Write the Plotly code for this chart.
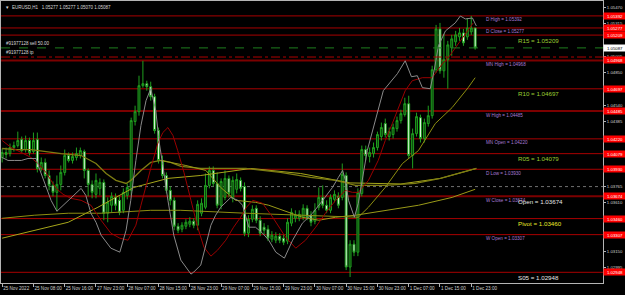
import plotly.graph_objects as go

# ---------------- data ----------------
bars = list(range(122))
opens = [1.04042,1.04090,1.04080,1.04137,1.04156,1.04213,1.04118,1.04204,1.04099,1.04213,
         1.03938,1.03995,1.03871,1.03776,1.03710,1.03786,1.03900,1.04061,1.04014,1.04042,
         1.04061,1.04099,1.03919,1.03786,1.03691,1.03748,1.03805,1.03511,1.03587,1.03662,
         1.03634,1.03539,1.03681,1.03729,1.04385,1.04479,1.04727,1.04746,1.04717,1.04622,
         1.04299,1.04014,1.03871,1.03729,1.03634,1.03387,1.03359,1.03387,1.03406,1.03435,
         1.03397,1.03511,1.03568,1.03776,1.03919,1.03795,1.03587,1.03662,1.03843,1.03653,
         1.03739,1.03824,1.03767,1.03321,1.03454,1.03558,1.03444,1.03378,1.03359,1.03264,
         1.03254,1.03292,1.03273,1.03245,1.03416,1.03463,1.03463,1.03473,1.03558,1.03492,
         1.03435,1.03568,1.03662,1.03587,1.03539,1.03643,1.03672,1.03662,1.03871,1.02998,
         1.03216,1.03140,1.03700,1.04118,1.04052,1.04080,1.04137,1.04242,1.04366,1.04242,
         1.04261,1.04318,1.04394,1.04451,1.04555,1.04061,1.04270,1.04422,1.04223,1.04366,
         1.04441,1.04879,1.05268,1.04869,1.04974,1.05088,1.05145,1.05192,1.05230,1.05192,
         1.05240,1.05277]
highs = [1.04128,1.04137,1.04175,1.04194,1.04289,1.04242,1.04251,1.04232,1.04280,1.04280,
         1.04042,1.04033,1.03919,1.03814,1.03871,1.03966,1.04118,1.04090,1.04090,1.04137,
         1.04137,1.04118,1.03938,1.03824,1.03890,1.03843,1.03833,1.03662,1.03710,1.03700,
         1.03672,1.03748,1.03795,1.04422,1.04536,1.04822,1.04964,1.04774,1.04765,1.04650,
         1.04328,1.04061,1.03900,1.03767,1.03662,1.03416,1.03425,1.03454,1.03473,1.03463,
         1.03634,1.03653,1.03890,1.03957,1.03957,1.03900,1.03843,1.03919,1.03871,1.03862,
         1.03890,1.03852,1.03805,1.03492,1.03587,1.03587,1.03482,1.03416,1.03397,1.03340,
         1.03330,1.03321,1.03311,1.03463,1.03558,1.03539,1.03539,1.03596,1.03587,1.03530,
         1.03606,1.03757,1.03776,1.03634,1.03691,1.03729,1.03710,1.03985,1.03900,1.03254,
         1.03254,1.03748,1.04156,1.04156,1.04137,1.04185,1.04289,1.04375,1.04413,1.04328,
         1.04366,1.04432,1.04498,1.04612,1.04631,1.04318,1.04470,1.04451,1.04413,1.04536,
         1.04917,1.05306,1.05325,1.05221,1.05154,1.05211,1.05249,1.05277,1.05268,1.05372,
         1.05392,1.05277]
lows = [1.03995,1.04033,1.04052,1.04099,1.04137,1.04090,1.04090,1.04061,1.04080,1.03900,
        1.03909,1.03843,1.03729,1.03672,1.03530,1.03729,1.03871,1.03995,1.03985,1.04014,
        1.04033,1.03843,1.03672,1.03653,1.03653,1.03681,1.03444,1.03425,1.03520,1.03539,
        1.03492,1.03511,1.03643,1.03681,1.04347,1.04441,1.04708,1.04679,1.04584,1.04270,
        1.03985,1.03843,1.03700,1.03587,1.03349,1.03321,1.03330,1.03359,1.03378,1.03368,
        1.03349,1.03482,1.03549,1.03748,1.03767,1.03558,1.03549,1.03634,1.03662,1.03615,
        1.03700,1.03719,1.03292,1.03283,1.03425,1.03416,1.03292,1.03311,1.03245,1.03235,
        1.03226,1.03226,1.03207,1.03216,1.03387,1.03425,1.03435,1.03444,1.03444,1.03387,
        1.03406,1.03539,1.03558,1.03511,1.03511,1.03615,1.03558,1.03634,1.02969,1.02903,
        1.03102,1.03102,1.03672,1.04014,1.03995,1.04042,1.04109,1.04204,1.04232,1.04204,
        1.04223,1.04289,1.04366,1.04432,1.04033,1.03938,1.04242,1.04185,1.04185,1.04337,
        1.04413,1.04850,1.04841,1.04803,1.04698,1.05012,1.05107,1.05154,1.05107,1.05164,
        1.05211,1.05070]
closes = [1.04090,1.04071,1.04137,1.04156,1.04204,1.04109,1.04204,1.04090,1.04204,1.03938,
          1.03995,1.03871,1.03776,1.03710,1.03786,1.03900,1.04061,1.04014,1.04052,1.04080,
          1.04109,1.03919,1.03786,1.03710,1.03824,1.03805,1.03511,1.03615,1.03672,1.03587,
          1.03520,1.03710,1.03757,1.04394,1.04479,1.04727,1.04746,1.04717,1.04622,1.04299,
          1.04014,1.03871,1.03729,1.03634,1.03387,1.03349,1.03397,1.03425,1.03435,1.03397,
          1.03596,1.03606,1.03776,1.03919,1.03795,1.03587,1.03814,1.03843,1.03700,1.03824,
          1.03833,1.03748,1.03321,1.03454,1.03549,1.03444,1.03321,1.03349,1.03273,1.03302,
          1.03292,1.03254,1.03235,1.03425,1.03520,1.03492,1.03501,1.03558,1.03473,1.03425,
          1.03539,1.03662,1.03587,1.03539,1.03662,1.03691,1.03587,1.03881,1.02998,1.03216,
          1.03140,1.03710,1.04118,1.04061,1.04090,1.04137,1.04261,1.04328,1.04261,1.04289,
          1.04328,1.04394,1.04460,1.04555,1.04061,1.04270,1.04432,1.04223,1.04375,1.04441,
          1.04879,1.05268,1.04869,1.04974,1.05116,1.05173,1.05211,1.05230,1.05135,1.05277,
          1.05277,1.05087]

# indicator lines (bar position, price)
gray_x = [0,1.5,3.1,4.9,6.6,8.7,9.4,10.7,12.5,14.0,15.6,17.6,20.2,21.4,22.7,24.0,25.3,27.8,30.1,31.7,
          32.9,34.2,35.5,36.8,38.0,39.3,40.1,41.1,42.4,43.9,45.7,48.3,49.0,50.8,52.1,53.4,54.6,55.9,58.5,60.3,
          61.5,62.3,63.1,64.8,66.6,68.2,70.0,72.2,74.3,76.8,79.4,82.0,84.5,86.0,87.1,87.8,88.6,90.1,91.1,93.4,
          95.5,97.5,101.1,103.1,104.7,106.2,107.5,109.5,110.5,111.6,113.4,115.9,117.2,118.5,120.3,121.3]
gray_y = [1.04042,1.04014,1.04014,1.04014,1.04033,1.04033,1.03948,1.03824,1.03634,1.03530,1.03587,1.03653,
          1.03748,1.03681,1.03511,1.03425,1.03302,1.03178,1.03140,1.03349,1.03634,1.04014,1.04347,1.04584,
          1.04698,1.04489,1.04204,1.03966,1.03634,1.03302,1.03064,1.02931,1.02950,1.03017,1.03207,1.03397,
          1.03492,1.03568,1.03662,1.03634,1.03587,1.03473,1.03378,1.03378,1.03321,1.03254,1.03140,1.03083,
          1.03254,1.03416,1.03511,1.03634,1.03757,1.03852,1.03919,1.03824,1.03634,1.03473,1.03606,1.04109,
          1.04394,1.04679,1.04841,1.04964,1.04812,1.04822,1.04708,1.04698,1.04869,1.05107,1.05249,1.05325,
          1.05391,1.05363,1.05372,1.05296]
red_x = [0,2.3,4.9,7.4,9.4,11.2,13.8,15.6,17.6,20.2,22.7,25.3,27.8,30.1,32.2,34.2,35.5,36.8,38.0,39.8,
         41.1,42.4,43.7,44.9,46.5,48.3,50.0,51.6,53.4,55.1,57.2,59.2,61.0,62.5,64.1,66.6,69.2,72.5,75.1,77.6,
         80.2,82.7,85.3,87.8,89.6,91.1,93.7,96.2,98.0,99.8,101.4,103.1,104.9,107.5,110.0,112.6,114.1,115.9,
         117.7,119.3,120.5]
red_y = [1.04204,1.04137,1.04090,1.04042,1.03976,1.03900,1.03748,1.03691,1.03653,1.03634,1.03587,1.03444,
         1.03321,1.03273,1.03254,1.03397,1.03587,1.03776,1.03938,1.04175,1.04280,1.04328,1.04251,1.04109,
         1.03900,1.03634,1.03378,1.03188,1.03102,1.03159,1.03254,1.03378,1.03473,1.03568,1.03634,1.03606,
         1.03473,1.03283,1.03178,1.03254,1.03378,1.03511,1.03634,1.03729,1.03710,1.03710,1.03824,1.04014,
         1.04204,1.04366,1.04518,1.04679,1.04774,1.04803,1.04803,1.04936,1.04992,1.05088,1.05183,1.05268,
         1.05325]
ma_a_x = [0,3.6,7.4,11.2,15.1,20.2,24.0,26.6,29.1,31.7,32.9,35.5,38.0,40.6,43.1,45.7,50.8,62.3,71.2,78.9,
          85.3,90.4,98.0,105.7,112.1,121.3]
ma_a_y = [1.04128,1.04118,1.04118,1.04099,1.04080,1.04061,1.03985,1.03890,1.03824,1.03795,1.03824,1.03919,
          1.03995,1.04014,1.03995,1.03957,1.03938,1.03938,1.03900,1.03852,1.03824,1.03776,1.03776,1.03795,
          1.03843,1.03938]
ma_b_x = [0,16.9,24.5,33.7,42.4,50.8,63.6,76.3,89.0,102.0,112.1,121.3]
ma_b_y = [1.03273,1.03425,1.03568,1.03757,1.03843,1.03871,1.03938,1.03890,1.03800,1.03790,1.03843,1.03938]
ma_e_x = [40.6,47.0,52.1,55.9,59.7,64.8,68.2,76.8,81.0,85.3,90.4,98.0,106.5,115.1,121.0]
ma_e_y = [1.04014,1.03966,1.03919,1.03757,1.03634,1.03615,1.03587,1.03473,1.03444,1.03473,1.03492,
          1.03539,1.03587,1.03662,1.03739]
ma_d_x = [0,8.2,16.9,25.3,38.0,45.7,62.3,76.3,91.1,93.7,98.0,102.4,106.5,110.8,115.1,119.2,121.0]
ma_d_y = [1.03463,1.03492,1.03511,1.03511,1.03539,1.03539,1.03511,1.03492,1.03473,1.03568,1.03757,
          1.03985,1.04109,1.04366,1.04518,1.04708,1.04803]

x_tick_pos = [0, 8, 16, 24, 32, 40, 48, 56, 64, 72, 80, 88, 96, 104, 112, 120]
x_tick_text = ["25 Nov 2022", "25 Nov 08:00", "25 Nov 16:00", "27 Nov 23:00", "28 Nov 07:00",
               "28 Nov 15:00", "28 Nov 23:00", "29 Nov 07:00", "29 Nov 15:00", "29 Nov 23:00",
               "30 Nov 07:00", "30 Nov 15:00", "30 Nov 23:00", "1 Dec 07:00", "1 Dec 15:00",
               "1 Dec 23:00"]
y_tick_vals = [1.05470, 1.05315, 1.05005, 1.04850, 1.04540, 1.04385, 1.03765, 1.03610,
               1.03150, 1.02995, 1.02840]

level_prices = [1.05392, 1.05277, 1.05209, 1.04968, 1.04697, 1.04485, 1.04220, 1.04079,
                1.03930, 1.03674, 1.03460, 1.03307, 1.02948]
level_heavy = [False, False, False, True, False, True, False, False, False, True, False, False, False]

text_labels = ["D High = 1.05392", "D Close = 1.05277", "R15 = 1.05209", "MN High = 1.04968",
               "R10 = 1.04697", "W High = 1.04485", "MN Open = 1.04220", "R05 = 1.04079",
               "D Low = 1.03930", "W Close = 1.03674", "Open = 1.03674", "Pivot = 1.03460",
               "W Open = 1.03307", "S05 = 1.02948"]
text_prices = [1.05392, 1.05277, 1.05209, 1.04968, 1.04697, 1.04485, 1.04220, 1.04079,
               1.03930, 1.03674, 1.03674, 1.03460, 1.03307, 1.02948]
text_kind = ["p", "p", "r", "p", "r", "p", "p", "r", "p", "p", "w", "y", "p", "w"]

order_price = 1.05087
tp_price = 1.05000
bid_price = 1.05087
dotted_price = 1.03765

# ---------------- figure ----------------
fig = go.Figure()

fig.add_trace(go.Scatter(x=ma_b_x, y=ma_b_y, mode="lines", line=dict(color="#a6a61a", width=1), hoverinfo="skip"))
fig.add_trace(go.Scatter(x=ma_a_x, y=ma_a_y, mode="lines", line=dict(color="#7d7d12", width=1.3), hoverinfo="skip"))
fig.add_trace(go.Scatter(x=ma_e_x, y=ma_e_y, mode="lines", line=dict(color="#9a9a18", width=1), hoverinfo="skip"))
fig.add_trace(go.Scatter(x=ma_d_x, y=ma_d_y, mode="lines", line=dict(color="#8e8e10", width=1), hoverinfo="skip"))
fig.add_trace(go.Scatter(x=red_x, y=red_y, mode="lines", line=dict(color="#9a0000", width=1), hoverinfo="skip"))
fig.add_trace(go.Scatter(x=gray_x, y=gray_y, mode="lines", line=dict(color="#8a8a8a", width=1), hoverinfo="skip"))

fig.add_trace(go.Candlestick(
    x=bars, open=opens, high=highs, low=lows, close=closes,
    increasing=dict(line=dict(color="#1f9f1f", width=1), fillcolor="#0b3f0b"),
    decreasing=dict(line=dict(color="#1f9f1f", width=1), fillcolor="#f2fff2"),
    whiskerwidth=0, hoverinfo="skip"))

shapes = []
for p, heavy in zip(level_prices, level_heavy):
    shapes.append(dict(type="line", xref="paper", x0=0, x1=1, yref="y", y0=p, y1=p,
                       line=dict(color="#7c0000" if heavy else "#a80000", width=2 if heavy else 1),
                       layer="below"))
shapes.append(dict(type="line", xref="paper", x0=0, x1=1, yref="y", y0=order_price, y1=order_price,
                   line=dict(color="#1e7e1e", width=1, dash="dash"), layer="above"))
shapes.append(dict(type="line", xref="paper", x0=0, x1=1, yref="y", y0=tp_price, y1=tp_price,
                   line=dict(color="#b00000", width=1, dash="dashdot"), layer="above"))
shapes.append(dict(type="line", xref="paper", x0=0, x1=1, yref="y", y0=dotted_price, y1=dotted_price,
                   line=dict(color="#707070", width=1, dash="dot"), layer="below"))

annotations = []
colors = {"p": "#a77bd6", "r": "#9acd32", "w": "#e6e6e6", "y": "#e8e82a"}
for t, p, k in zip(text_labels, text_prices, text_kind):
    small = k == "p"
    annotations.append(dict(x=123.3 if small else 131.5, y=p, xref="x", yref="y", text=t,
                            showarrow=False, xanchor="left", yanchor="top", yshift=0.5,
                            font=dict(family="Liberation Sans", size=4.6 if small else 6.2,
                                      color=colors[k])))
# right-hand price boxes
for p in level_prices:
    annotations.append(dict(x=1, xref="paper", xanchor="left", xshift=0, y=p, yref="y",
                            text=f"{p:.5f}", showarrow=False, bgcolor="#ff0000",
                            width=21, height=5, borderpad=0.5,
                            font=dict(family="Liberation Sans", size=4.3, color="#ffffff")))
annotations.append(dict(x=1, xref="paper", xanchor="left", xshift=0, y=bid_price, yref="y",
                        text=f"{bid_price:.5f}", showarrow=False, bgcolor="#ffffff",
                        width=21, height=5, borderpad=0.5,
                        font=dict(family="Liberation Sans", size=4.3, color="#000000")))
# header texts
annotations.append(dict(x=0, y=1, xref="paper", yref="paper", xanchor="left", yanchor="top",
                        xshift=2, yshift=-2, showarrow=False,
                        text="▼  EURUSD,H1   1.05277 1.05277 1.05070 1.05087",
                        font=dict(family="Liberation Sans", size=4.5, color="#d8d8d8")))
annotations.append(dict(x=0, y=order_price, xref="paper", yref="y", xanchor="left", yanchor="bottom",
                        xshift=3, yshift=0, showarrow=False, text="#91977128 sell 50.00",
                        font=dict(family="Liberation Sans", size=4.5, color="#d8d8d8")))
annotations.append(dict(x=0, y=tp_price, xref="paper", yref="y", xanchor="left", yanchor="bottom",
                        xshift=3, yshift=0, showarrow=False, text="#91977128 tp",
                        font=dict(family="Liberation Sans", size=4.5, color="#d8d8d8")))

fig.update_layout(
    width=625, height=295,
    margin=dict(l=1, r=22, t=1, b=12),
    paper_bgcolor="#000000", plot_bgcolor="#000000",
    showlegend=False,
    shapes=shapes, annotations=annotations,
    xaxis=dict(range=[-0.3, 153.7], rangeslider=dict(visible=False), showgrid=False, zeroline=False,
               tickmode="array", tickvals=x_tick_pos, ticktext=x_tick_text, tickangle=0,
               ticks="outside", ticklen=3, tickcolor="#b4b4b4", ticklabelposition="outside right",
               tickfont=dict(family="Liberation Sans", size=4.6, color="#d0d0d0"),
               showline=True, linecolor="#b4b4b4", linewidth=1, mirror=True),
    yaxis=dict(range=[1.02846, 1.05534], side="right", showgrid=False, zeroline=False,
               tickmode="array", tickvals=y_tick_vals, ticktext=[f"{v:.5f}" for v in y_tick_vals],
               ticks="outside", ticklen=2, tickcolor="#b4b4b4",
               tickfont=dict(family="Liberation Sans", size=4.3, color="#d0d0d0"),
               showline=True, linecolor="#b4b4b4", linewidth=1, mirror=True),
)

fig.write_html("out.html")
